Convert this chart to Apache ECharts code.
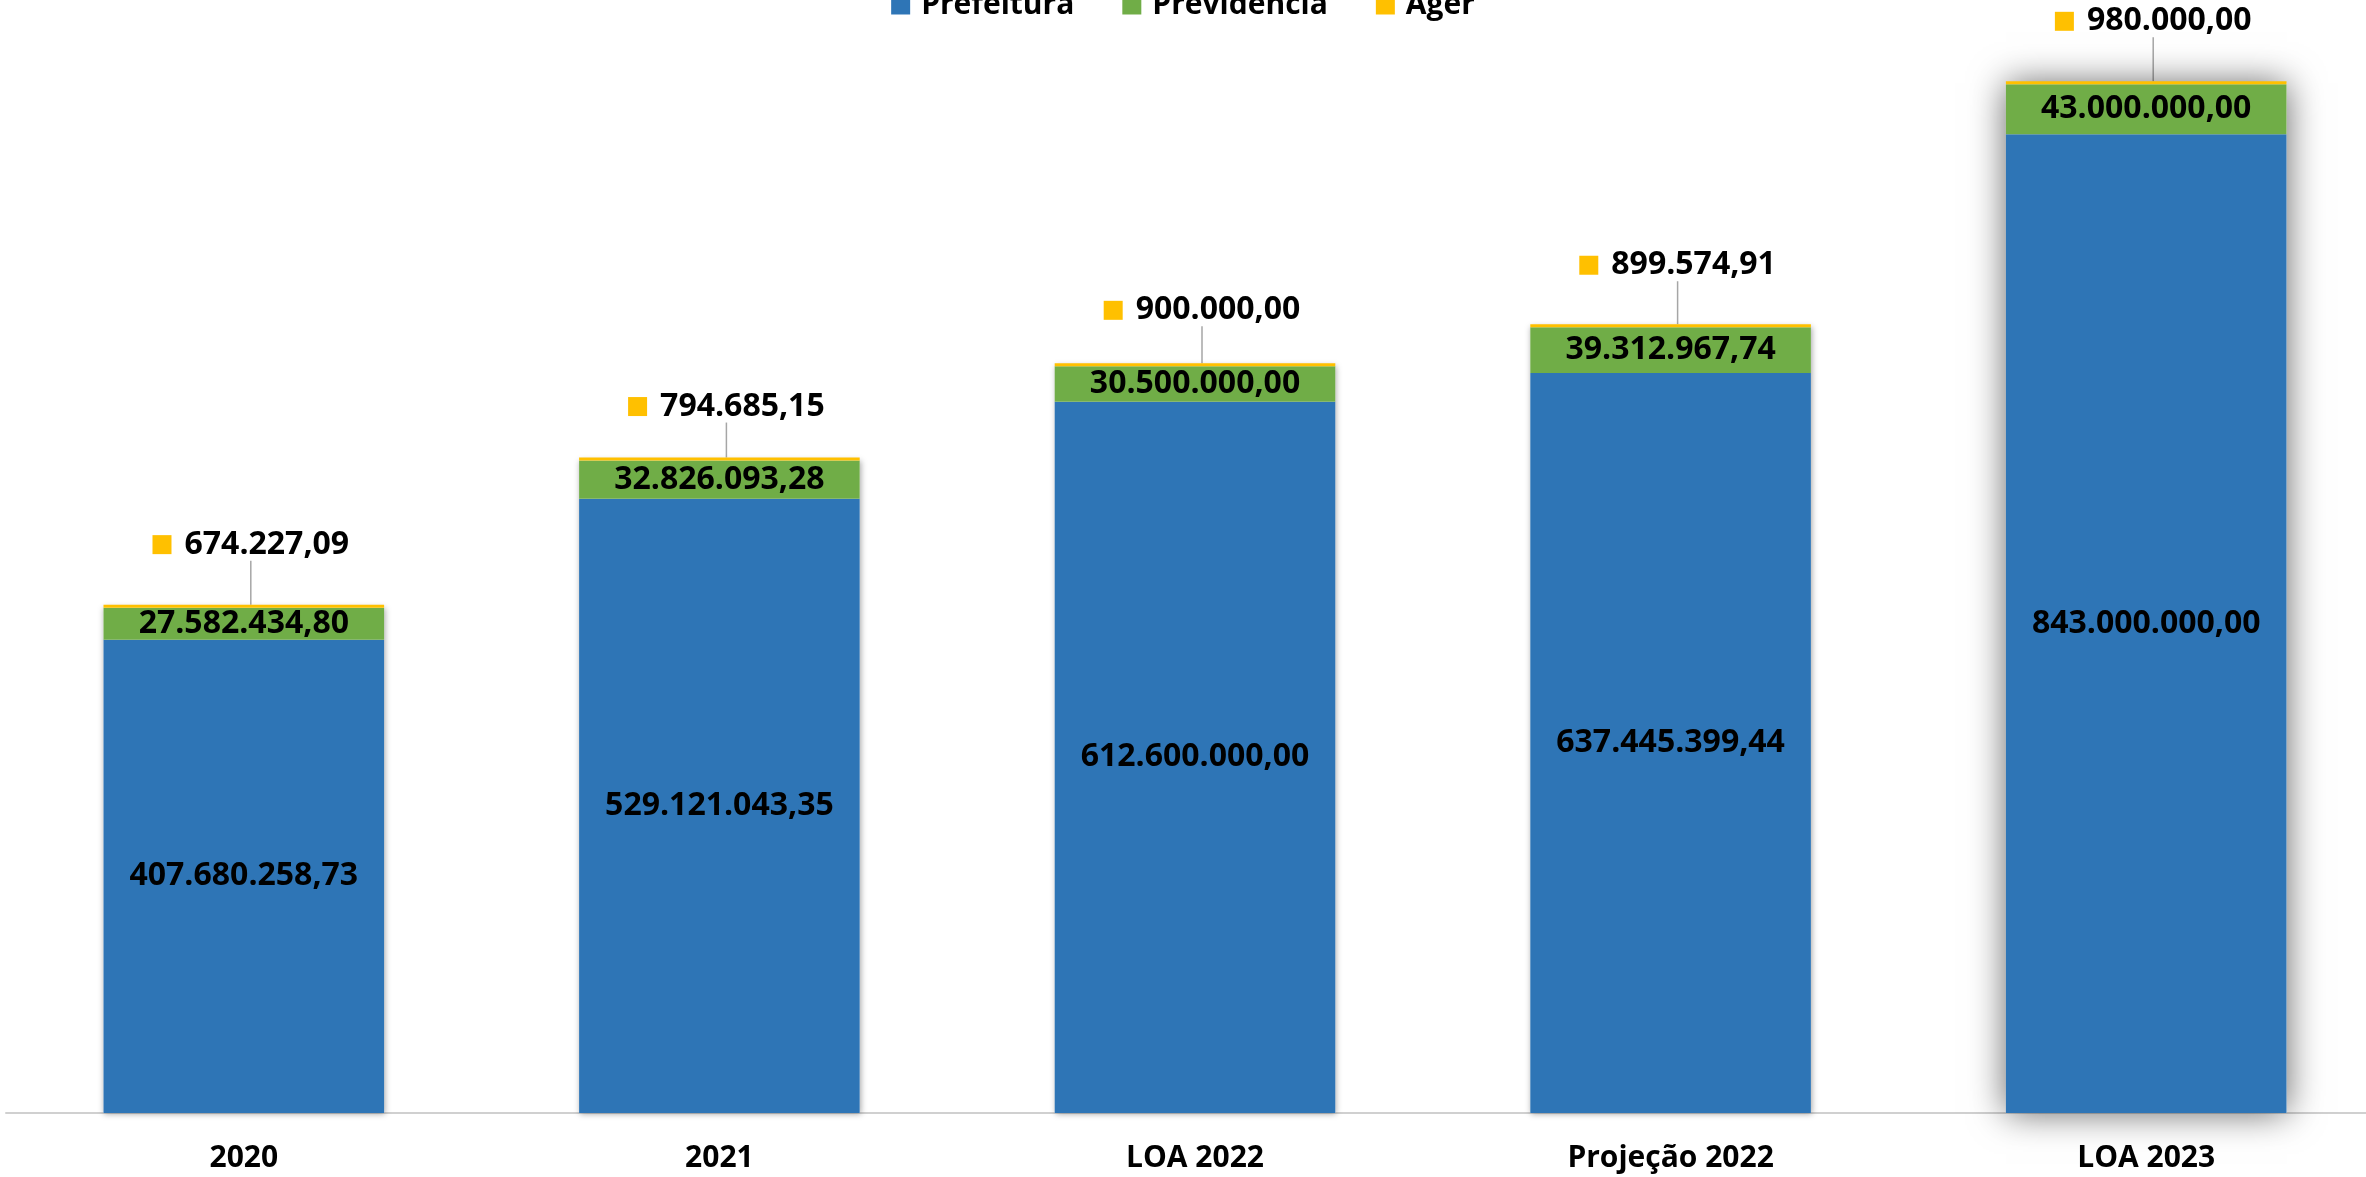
<!DOCTYPE html>
<html>
<head>
<meta charset="utf-8">
<script src="https://cdn.jsdelivr.net/npm/echarts@6/dist/echarts.min.js"></script>
<style>
  html, body { margin: 0; padding: 0; background: #fff; }
  #chart { width: 2366px; height: 1177px; }
</style>
</head>
<body>
<div id="chart"></div>
<script>
// categorias e valores
const categorias = ['2020', '2021', 'LOA 2022', 'Projeção 2022', 'LOA 2023'];
const prefeitura = [407680258.73, 529121043.35, 612600000.00, 637445399.44, 843000000.00];
const previdencia = [27582434.80, 32826093.28, 30500000.00, 39312967.74, 43000000.00];
const ager = [674227.09, 794685.15, 900000.00, 899574.91, 980000.00];

const FONT = 'Open Sans';

// formato pt-BR: 1.234.567,89
function brl(v) {
  var p = Number(v).toFixed(2).split('.');
  return p[0].replace(/\B(?=(\d{3})+(?!\d))/g, '.') + ',' + p[1];
}

var totais = prefeitura.map(function (v, i) { return v + previdencia[i] + ager[i]; });

var chart = echarts.init(document.getElementById('chart'));

var valueLabel = {
  show: true,
  position: 'inside',
  color: '#000',
  fontFamily: FONT,
  fontWeight: 'bold',
  fontSize: 32,
  formatter: function (p) { return brl(p.value); }
};

var option = {
  animation: false,
  backgroundColor: '#fff',
  legend: {
    data: ['Prefeitura', 'Previdencia', 'Ager'],
    top: -15,
    left: 'center',
    itemWidth: 19,
    itemHeight: 19,
    itemGap: 48,
    icon: 'rect',
    textStyle: {
      fontFamily: FONT,
      fontWeight: 'bold',
      fontSize: 30,
      color: '#000',
      padding: [0, 0, 0, 6]
    }
  },
  grid: {
    left: 6,
    right: -18,
    top: 10,
    bottom: 64,
    outerBoundsMode: 'none'
  },
  xAxis: {
    type: 'category',
    data: categorias,
    axisTick: { show: false },
    axisLine: { lineStyle: { color: '#D0D0D0', width: 2 } },
    axisLabel: {
      margin: 30,
      color: '#000',
      fontFamily: FONT,
      fontWeight: 'bold',
      fontSize: 30
    }
  },
  yAxis: {
    type: 'value',
    min: 0,
    max: 950000000,
    show: false,
    splitLine: { show: false }
  },
  series: [
    {
      // sombra por trás das colunas
      name: 'sombra',
      type: 'bar',
      stack: 'sombra',
      silent: true,
      barWidth: '59%',
      data: totais.map(function (v, i) {
        var big = i === 4;
        return {
          value: v,
          itemStyle: {
            color: '#fff',
            shadowColor: big ? 'rgba(0,0,0,0.6)' : 'rgba(0,0,0,0.35)',
            shadowBlur: big ? 34 : 6,
            shadowOffsetX: big ? 0 : 1,
            shadowOffsetY: big ? 0 : 1
          }
        };
      }),
      label: { show: false }
    },
    {
      name: 'Prefeitura',
      type: 'bar',
      stack: 'total',
      barGap: '-100%',
      barWidth: '59%',
      itemStyle: { color: '#2E75B6' },
      label: valueLabel,
      data: prefeitura
    },
    {
      name: 'Previdencia',
      type: 'bar',
      stack: 'total',
      barWidth: '59%',
      itemStyle: { color: '#70AD47' },
      label: valueLabel,
      data: previdencia
    },
    {
      name: 'Ager',
      type: 'bar',
      stack: 'total',
      barWidth: '59%',
      barMinHeight: 3,
      itemStyle: { color: '#FFC000' },
      label: {
        show: true,
        position: 'top',
        formatter: function (p) { return '{sq|}{sp|}{v|' + brl(p.value) + '}'; },
        rich: {
          sq: { width: 19, height: 19, backgroundColor: '#FFC000' },
          sp: { width: 13 },
          v: { fontFamily: FONT, fontWeight: 'bold', fontSize: 32, color: '#000' }
        }
      },
      labelLine: {
        show: true,
        lineStyle: { color: '#A6A6A6', width: 1.5 }
      },
      labelLayout: function (params) {
        var lift = [60, 51, 53, 59, 60][params.dataIndex];
        return {
          x: params.rect.x + params.rect.width / 2 + 7,
          y: params.rect.y - lift,
          align: 'center',
          verticalAlign: 'middle'
        };
      },
      data: ager
    }
  ]
};

chart.setOption(option);
</script>
</body>
</html>
